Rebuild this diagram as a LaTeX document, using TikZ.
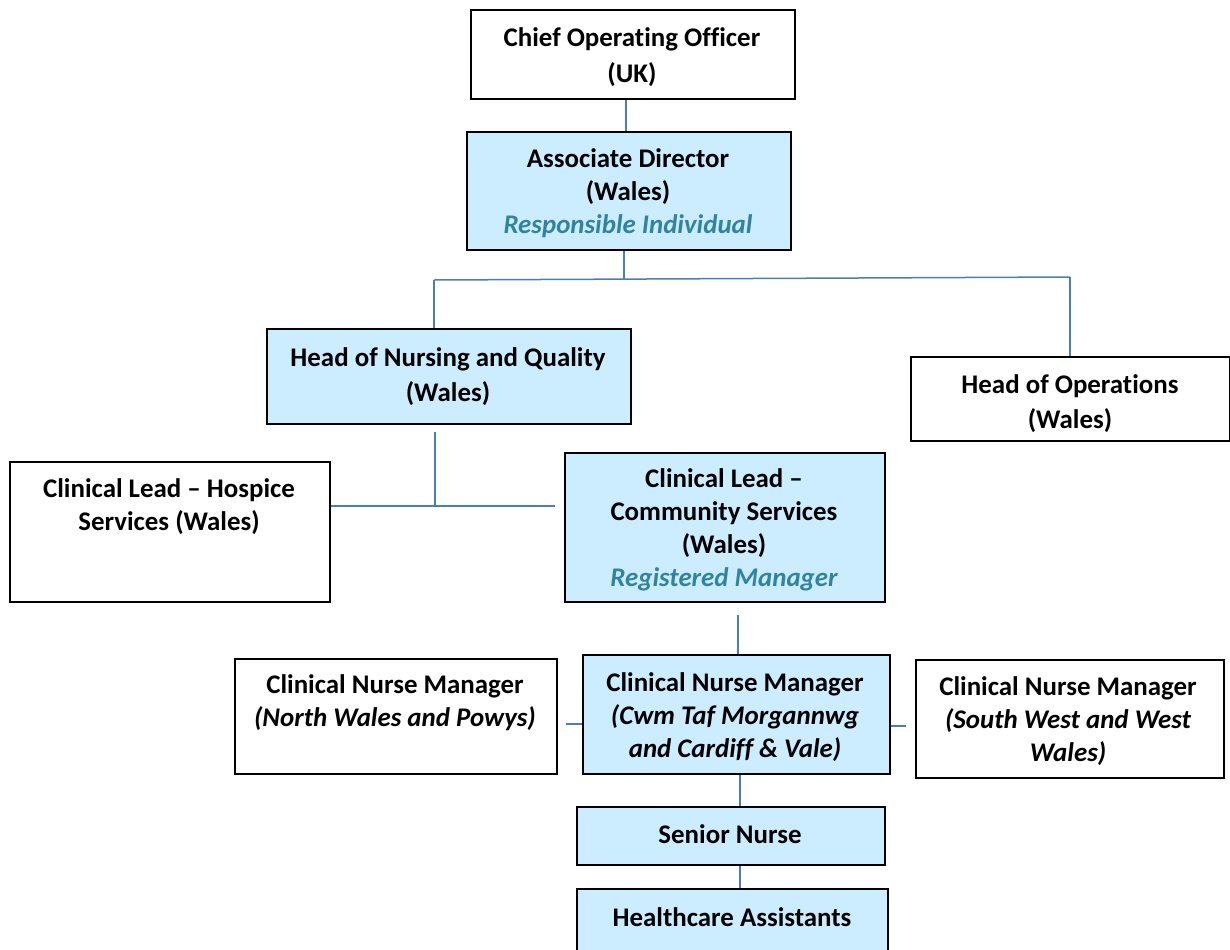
\documentclass[tikz,border=0pt]{standalone}
\usepackage{fontspec}
\setmainfont[Ligatures=NoCommon]{Carlito}
\definecolor{boxblue}{RGB}{204,236,255}
\definecolor{riteal}{RGB}{49,132,155}
\definecolor{linkblue}{RGB}{74,126,187}
\begin{document}
\begin{tikzpicture}[x=1bp,y=-1bp,
  box/.style={draw=black, line width=1.6bp, inner sep=0, anchor=north west},
  bluebox/.style={box, fill=boxblue},
  txt/.style={align=center, font=\fontsize{27}{33}\selectfont\bfseries, inner sep=0},
  conn/.style={draw=linkblue, line width=1.5bp}]
\useasboundingbox (0,0) rectangle (1230,950);
% boxes
\node[box, minimum width=324bp, minimum height=89bp] (coo) at (470,9) {};
\node[bluebox, minimum width=324bp, minimum height=118bp] (ad) at (466,131) {};
\node[bluebox, minimum width=364bp, minimum height=95bp] (hnq) at (266,328) {};
\node[box, minimum width=319bp, minimum height=84bp] (ho) at (910,356) {};
\node[box, minimum width=320bp, minimum height=140bp] (clh) at (9,461) {};
\node[bluebox, minimum width=320bp, minimum height=149bp] (clc) at (564,452) {};
\node[box, minimum width=322bp, minimum height=115bp] (cnml) at (234,658) {};
\node[bluebox, minimum width=307bp, minimum height=119bp] (cnmc) at (582,654) {};
\node[box, minimum width=308bp, minimum height=118bp] (cnmr) at (915,659) {};
\node[bluebox, minimum width=308bp, minimum height=58bp] (sn) at (576,806) {};
\node[bluebox, minimum width=311bp, minimum height=80bp] (ha) at (576,888) {};
% texts
\node[txt] (coot) at (632,57) {Chief Operating Officer\\[3bp](UK)};
\node[txt] (adt) at (628,193) {Associate Director\\(Wales)\\{\itshape\color{riteal}Responsible Individual}};
\node[txt] (hnqt) at (448,377) {Head of Nursing and Quality\\[2bp](Wales)};
\node[txt] (hot) at (1070,404) {Head of Operations\\[2bp](Wales)};
\node[txt] (clht) at (169,507) {Clinical Lead -- Hospice\\Services (Wales)};
\node[txt] (clct) at (724,530) {Clinical Lead --\\Community Services\\(Wales)\\{\itshape\color{riteal}Registered Manager}};
\node[txt] (cnmlt) at (395,703) {Clinical Nurse Manager\\{\itshape (North Wales and Powys)}};
\node[txt] (cnmct) at (735,717) {Clinical Nurse Manager\\{\itshape (Cwm Taf Morgannwg}\\{\itshape and Cardiff \& Vale)}};
\node[txt] (cnmrt) at (1068,721) {Clinical Nurse Manager\\{\itshape (South West and West}\\{\itshape Wales)}};
\node[txt] (snt) at (730,834) {Senior Nurse};
\node[txt] (hat) at (732,917) {Healthcare Assistants};
% junction coordinates
\coordinate (j1) at (624,279);
\coordinate (jl) at (434,280);
\coordinate (jr) at (1070,277);
\coordinate (j2top) at (435,432);
\coordinate (j2) at (435,506);
\coordinate (j2r) at (555,506);
\coordinate (c1) at (738,615);
\coordinate (c2) at (566,724);
\coordinate (c3) at (906,726);
\coordinate (v) at (740,790);
% connectors
\draw[conn] (ad.north -| 626,0) -- (coo.south -| 626,0);
\draw[conn] (ad.south -| j1) -- (j1);
\draw[conn] (jl) -- (jr);
\draw[conn] (jl) -- (jl |- hnq.north);
\draw[conn] (jr) -- (jr |- ho.north);
\draw[conn] (j2top) -- (j2);
\draw[conn] (clh.east |- j2) -- (j2r);
\draw[conn] (c1) -- (c1 |- cnmc.north);
\draw[conn] (c2) -- (c2 -| cnmc.west);
\draw[conn] (cnmc.east |- c3) -- (c3);
\draw[conn] (cnmc.south -| v) -- (sn.north -| v);
\draw[conn] (sn.south -| v) -- (ha.north -| v);
\end{tikzpicture}
\end{document}
